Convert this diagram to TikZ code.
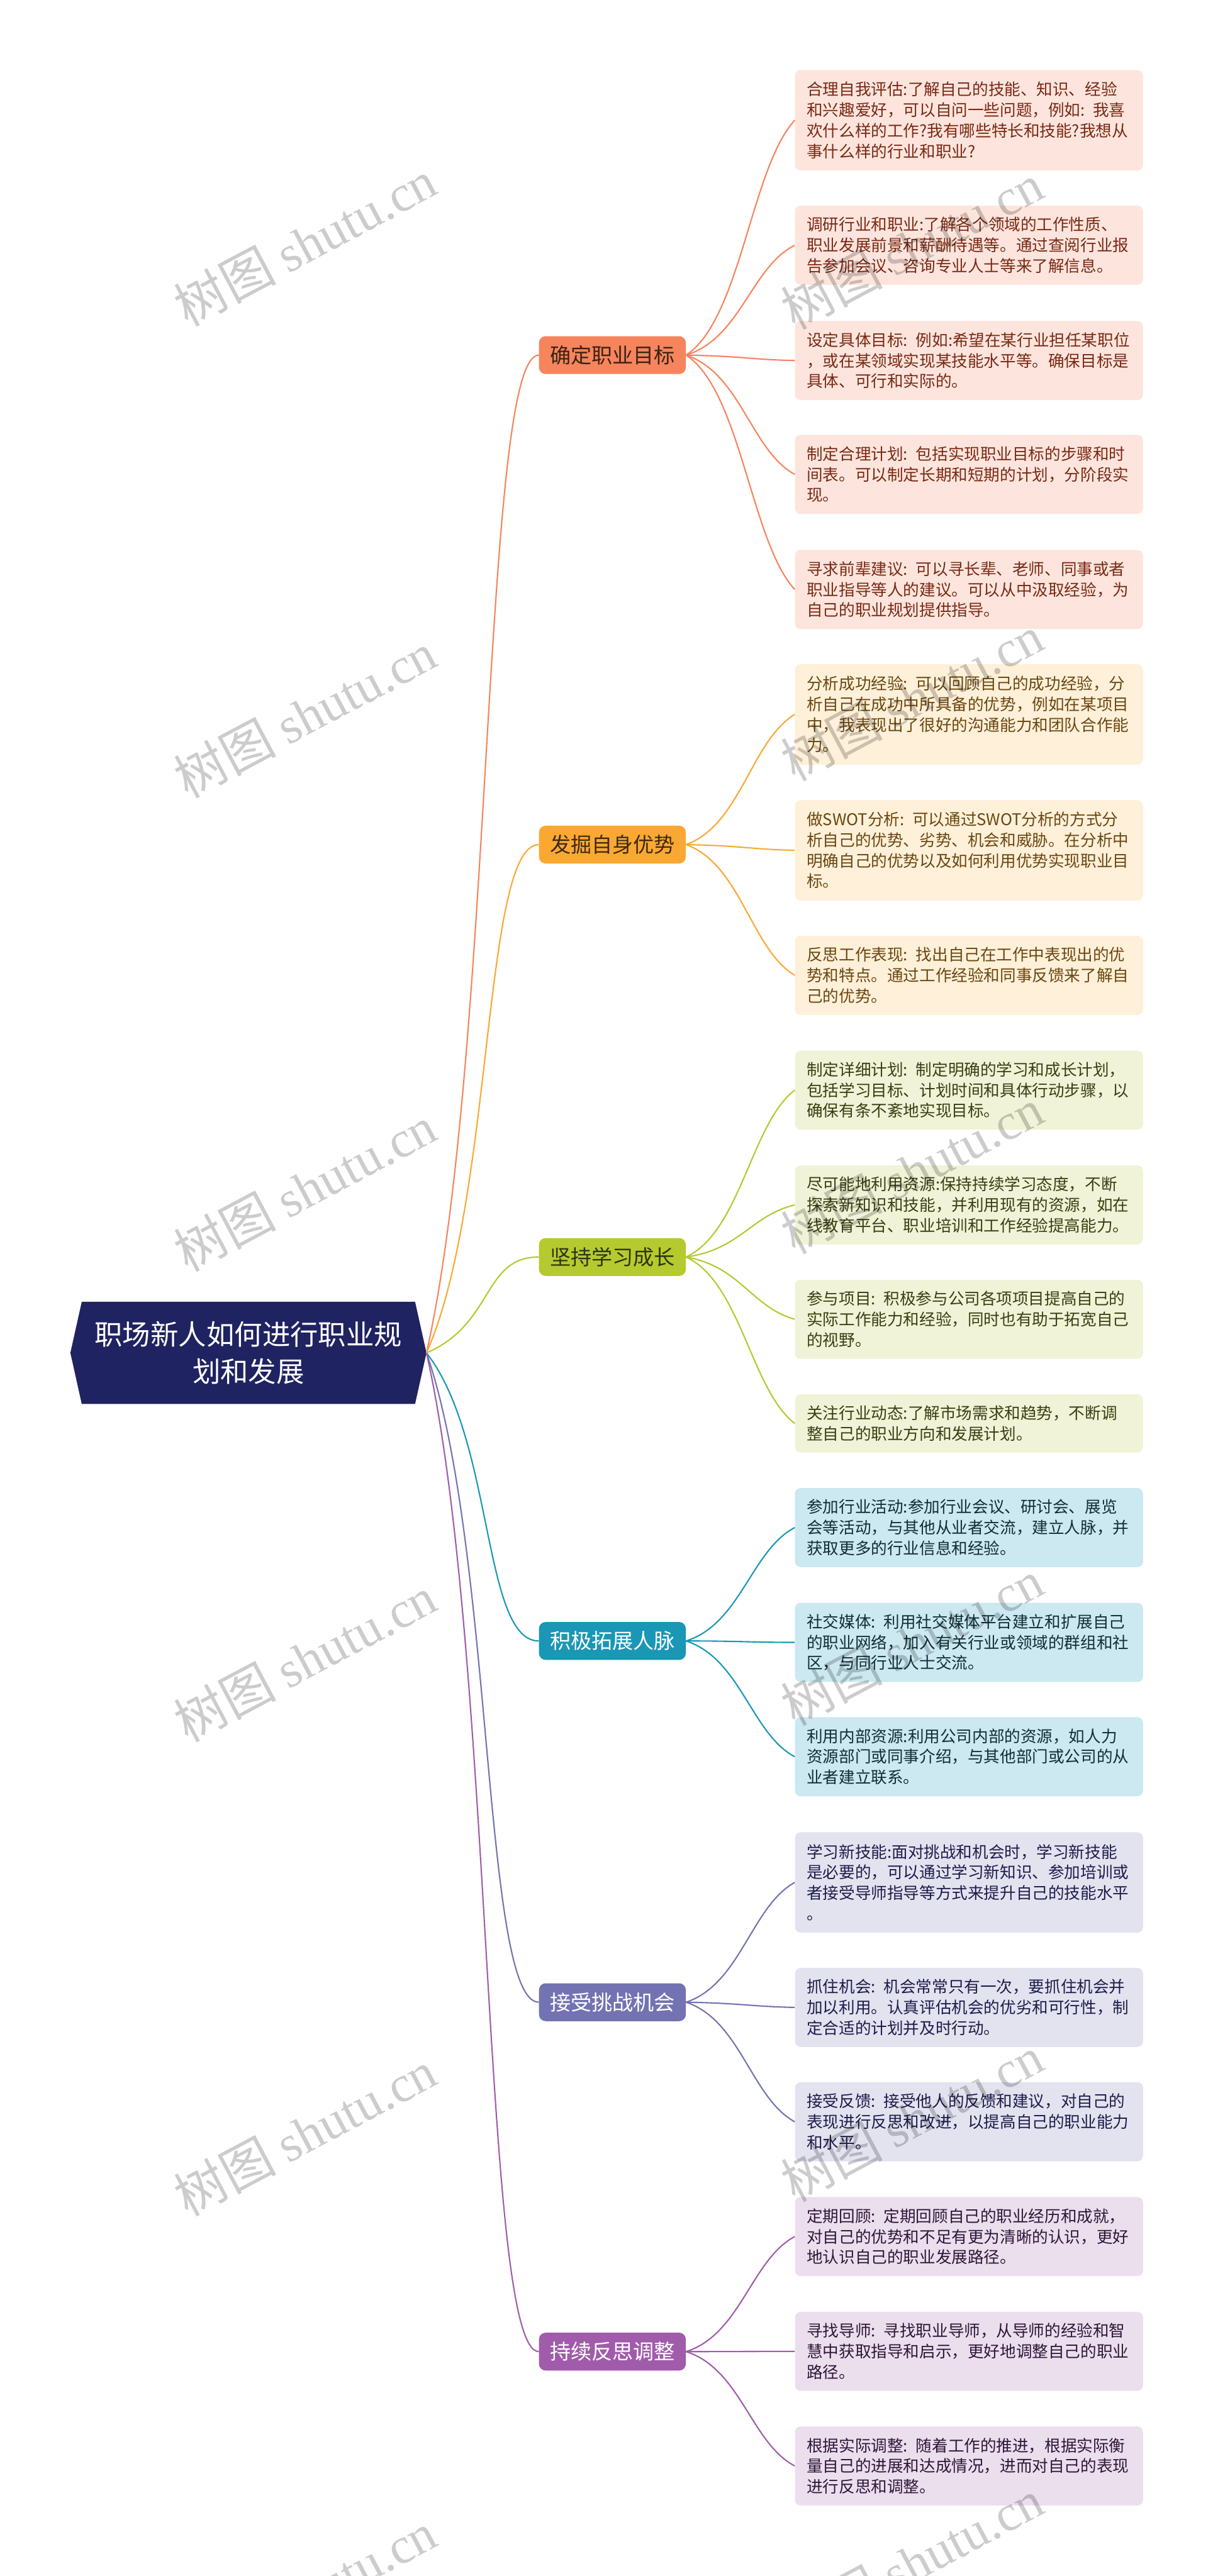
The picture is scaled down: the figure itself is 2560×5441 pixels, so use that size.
\documentclass[tikz,border=0pt]{standalone}
\usepackage{fontspec}
\setmainfont{Noto Sans CJK SC}
\newfontfamily\wmlatin{Liberation Serif}
\usetikzlibrary{backgrounds}
\definecolor{rootfill}{HTML}{1F2361}
\definecolor{bA}{HTML}{F6845C}
\definecolor{bB}{HTML}{FBA833}
\definecolor{bC}{HTML}{B5CA2E}
\definecolor{bD}{HTML}{1997B5}
\definecolor{bE}{HTML}{7373B3}
\definecolor{bF}{HTML}{A05CAA}
\definecolor{fA}{HTML}{FDE5DD}
\definecolor{fB}{HTML}{FEF0D9}
\definecolor{fC}{HTML}{F0F3D7}
\definecolor{fD}{HTML}{CCE8F0}
\definecolor{fE}{HTML}{E3E3F0}
\definecolor{fF}{HTML}{EBDFEE}
\definecolor{tA}{HTML}{7A2914}
\definecolor{tB}{HTML}{6B4710}
\definecolor{tC}{HTML}{3A3F12}
\definecolor{tD}{HTML}{0F2E38}
\definecolor{tE}{HTML}{1C1C4A}
\definecolor{tF}{HTML}{2F1638}
\definecolor{btA}{HTML}{3B2214}
\definecolor{btB}{HTML}{3E2A10}
\definecolor{btC}{HTML}{2E3310}
\begin{document}
\begin{tikzpicture}[x=0.5pt,y=-0.5pt,
  rootbox/.style={rectangle, minimum width=375.5pt, minimum height=107.5pt, inner sep=0pt, text=white, align=center, font=\fontsize{29.5}{39}\selectfont},
  branch/.style={rectangle, rounded corners=7pt, minimum width=155pt, minimum height=40pt, inner sep=0pt, font=\fontsize{22}{26}\selectfont},
  leaf/.style={rectangle, rounded corners=6pt, anchor=west, minimum width=367.5pt, text width=342.5pt, inner xsep=12.5pt, inner ysep=0pt, align=left, font=\fontsize{17}{21.75}\selectfont},
  ltwo/.style={minimum height=61.5pt},
  lthree/.style={minimum height=83.5pt},
  lfour/.style={minimum height=106pt},
  lA/.style={leaf, fill=fA, text=tA},
  lB/.style={leaf, fill=fB, text=tB},
  lC/.style={leaf, fill=fC, text=tC},
  lD/.style={leaf, fill=fD, text=tD},
  lE/.style={leaf, fill=fE, text=tE},
  lF/.style={leaf, fill=fF, text=tF},
  conn/.style={line width=1.4pt},
  wm/.style={rotate=28, text=black, opacity=0.2, font=\fontsize{54}{54}\selectfont}
]
\useasboundingbox (0,0) rectangle (2560,5441);

% root
\node[rootbox] (root) at (524.5,2857.5) {职场新人如何进行职业规\\划和发展};

% branches
\node[branch, fill=bA, text=btA] (b1) at (1293,750) {确定职业目标};
\node[branch, fill=bB, text=btB] (b2) at (1293,1784) {发掘自身优势};
\node[branch, fill=bC, text=btC] (b3) at (1293,2655) {坚持学习成长};
\node[branch, fill=bD, text=white] (b4) at (1293,3466) {积极拓展人脉};
\node[branch, fill=bE, text=white] (b5) at (1293,4229) {接受挑战机会};
\node[branch, fill=bF, text=white] (b6) at (1293,4967) {持续反思调整};

% leaves
\node[lA, lfour] (a1) at (1678,254) {合理自我评估:了解自己的技能、知识、经验\\和兴趣爱好，可以自问一些问题，例如: 我喜\\欢什么样的工作?我有哪些特长和技能?我想从\\事什么样的行业和职业?};
\node[lA, lthree] (a2) at (1678,518) {调研行业和职业:了解各个领域的工作性质、\\职业发展前景和薪酬待遇等。通过查阅行业报\\告参加会议、咨询专业人士等来了解信息。};
\node[lA, lthree] (a3) at (1678,761.5) {设定具体目标: 例如:希望在某行业担任某职位\\，或在某领域实现某技能水平等。确保目标是\\具体、可行和实际的。};
\node[lA, lthree] (a4) at (1678,1002) {制定合理计划: 包括实现职业目标的步骤和时\\间表。可以制定长期和短期的计划，分阶段实\\现。};
\node[lA, lthree] (a5) at (1678,1245) {寻求前辈建议: 可以寻长辈、老师、同事或者\\职业指导等人的建议。可以从中汲取经验，为\\自己的职业规划提供指导。};

\node[lB, lfour] (c1) at (1678,1509) {分析成功经验: 可以回顾自己的成功经验，分\\析自己在成功中所具备的优势，例如在某项目\\中，我表现出了很好的沟通能力和团队合作能\\力。};
\node[lB, lfour] (c2) at (1678,1796) {做SWOT分析: 可以通过SWOT分析的方式分\\析自己的优势、劣势、机会和威胁。在分析中\\明确自己的优势以及如何利用优势实现职业目\\标。};
\node[lB, lthree] (c3) at (1678,2060) {反思工作表现: 找出自己在工作中表现出的优\\势和特点。通过工作经验和同事反馈来了解自\\己的优势。};

\node[lC, lthree] (d1) at (1678,2302.5) {制定详细计划: 制定明确的学习和成长计划，\\包括学习目标、计划时间和具体行动步骤，以\\确保有条不紊地实现目标。};
\node[lC, lthree] (d2) at (1678,2545) {尽可能地利用资源:保持持续学习态度，不断\\探索新知识和技能，并利用现有的资源，如在\\线教育平台、职业培训和工作经验提高能力。};
\node[lC, lthree] (d3) at (1678,2786.5) {参与项目: 积极参与公司各项项目提高自己的\\实际工作能力和经验，同时也有助于拓宽自己\\的视野。};
\node[lC, ltwo] (d4) at (1678,3006.5) {关注行业动态:了解市场需求和趋势，不断调\\整自己的职业方向和发展计划。};

\node[lD, lthree] (e1) at (1678,3226.5) {参加行业活动:参加行业会议、研讨会、展览\\会等活动，与其他从业者交流，建立人脉，并\\获取更多的行业信息和经验。};
\node[lD, lthree] (e2) at (1678,3469) {社交媒体: 利用社交媒体平台建立和扩展自己\\的职业网络，加入有关行业或领域的群组和社\\区，与同行业人士交流。};
\node[lD, lthree] (e3) at (1678,3710.5) {利用内部资源:利用公司内部的资源，如人力\\资源部门或同事介绍，与其他部门或公司的从\\业者建立联系。};

\node[lE, lfour] (f1) at (1678,3976) {学习新技能:面对挑战和机会时，学习新技能\\是必要的，可以通过学习新知识、参加培训或\\者接受导师指导等方式来提升自己的技能水平\\。};
\node[lE, lthree] (f2) at (1678,4240) {抓住机会: 机会常常只有一次，要抓住机会并\\加以利用。认真评估机会的优劣和可行性，制\\定合适的计划并及时行动。};
\node[lE, lthree] (f3) at (1678,4481.5) {接受反馈: 接受他人的反馈和建议，对自己的\\表现进行反思和改进，以提高自己的职业能力\\和水平。};

\node[lF, lthree] (g1) at (1678,4724) {定期回顾: 定期回顾自己的职业经历和成就，\\对自己的优势和不足有更为清晰的认识，更好\\地认识自己的职业发展路径。};
\node[lF, lthree] (g2) at (1678,4966.5) {寻找导师: 寻找职业导师，从导师的经验和智\\慧中获取指导和启示，更好地调整自己的职业\\路径。};
\node[lF, lthree] (g3) at (1678,5208.5) {根据实际调整: 随着工作的推进，根据实际衡\\量自己的进展和达成情况，进而对自己的表现\\进行反思和调整。};

% background and root hexagon
\begin{scope}[on background layer]
\fill[white] (0,0) rectangle (2560,5441);
\fill[rootfill] ([xshift=12pt]root.north west) -- ([xshift=-12pt]root.north east) -- (root.east) -- ([xshift=-12pt]root.south east) -- ([xshift=12pt]root.south west) -- (root.west) -- cycle;
\end{scope}

% root to branches
\draw[conn, bA] (root.east) .. controls +(143,-632) and +(-119,0) .. (b1.west);
\draw[conn, bB] (root.east) .. controls +(143,-322) and +(-119,0) .. (b2.west);
\draw[conn, bC] (root.east) .. controls +(143,-61) and +(-119,0) .. (b3.west);
\draw[conn, bD] (root.east) .. controls +(143,183) and +(-119,0) .. (b4.west);
\draw[conn, bE] (root.east) .. controls +(143,412) and +(-119,0) .. (b5.west);
\draw[conn, bF] (root.east) .. controls +(143,633) and +(-119,0) .. (b6.west);

% branch to leaves
\draw[conn, bA] (b1.east) .. controls +(115,-74) and +(-92,99) .. (a1.west);
\draw[conn, bA] (b1.east) .. controls +(115,-35) and +(-92,46) .. (a2.west);
\draw[conn, bA] (b1.east) .. controls +(115,2) and +(-92,-2) .. (a3.west);
\draw[conn, bA] (b1.east) .. controls +(115,38) and +(-92,-50) .. (a4.west);
\draw[conn, bA] (b1.east) .. controls +(115,74) and +(-92,-99) .. (a5.west);

\draw[conn, bB] (b2.east) .. controls +(115,-41) and +(-92,55) .. (c1.west);
\draw[conn, bB] (b2.east) .. controls +(115,2) and +(-92,-2) .. (c2.west);
\draw[conn, bB] (b2.east) .. controls +(115,41) and +(-92,-55) .. (c3.west);

\draw[conn, bC] (b3.east) .. controls +(115,-53) and +(-92,70) .. (d1.west);
\draw[conn, bC] (b3.east) .. controls +(115,-16) and +(-92,22) .. (d2.west);
\draw[conn, bC] (b3.east) .. controls +(115,20) and +(-92,-26) .. (d3.west);
\draw[conn, bC] (b3.east) .. controls +(115,53) and +(-92,-70) .. (d4.west);

\draw[conn, bD] (b4.east) .. controls +(115,-36) and +(-92,48) .. (e1.west);
\draw[conn, bD] (b4.east) .. controls +(115,0) and +(-92,0) .. (e2.west);
\draw[conn, bD] (b4.east) .. controls +(115,37) and +(-92,-49) .. (e3.west);

\draw[conn, bE] (b5.east) .. controls +(115,-38) and +(-92,51) .. (f1.west);
\draw[conn, bE] (b5.east) .. controls +(115,2) and +(-92,-2) .. (f2.west);
\draw[conn, bE] (b5.east) .. controls +(115,38) and +(-92,-50) .. (f3.west);

\draw[conn, bF] (b6.east) .. controls +(115,-36) and +(-92,49) .. (g1.west);
\draw[conn, bF] (b6.east) .. controls +(115,0) and +(-92,0) .. (g2.west);
\draw[conn, bF] (b6.east) .. controls +(115,36) and +(-92,-48) .. (g3.west);

% watermarks
\node[wm] (w1) at (644,513) {树图 {\wmlatin shutu.cn}};
\node[wm] (w2) at (644,1510) {树图 {\wmlatin shutu.cn}};
\node[wm] (w3) at (644,2510) {树图 {\wmlatin shutu.cn}};
\node[wm] (w4) at (644,3504) {树图 {\wmlatin shutu.cn}};
\node[wm] (w5) at (644,4505) {树图 {\wmlatin shutu.cn}};
\node[wm] (w6) at (644,5480) {树图 {\wmlatin shutu.cn}};
\node[wm] (w7) at (1925,520) {树图 {\wmlatin shutu.cn}};
\node[wm] (w8) at (1925,1474) {树图 {\wmlatin shutu.cn}};
\node[wm] (w9) at (1925,2473) {树图 {\wmlatin shutu.cn}};
\node[wm] (w10) at (1925,3469) {树图 {\wmlatin shutu.cn}};
\node[wm] (w11) at (1925,4475) {树图 {\wmlatin shutu.cn}};
\node[wm] (w12) at (1925,5412) {树图 {\wmlatin shutu.cn}};
\end{tikzpicture}
\end{document}
